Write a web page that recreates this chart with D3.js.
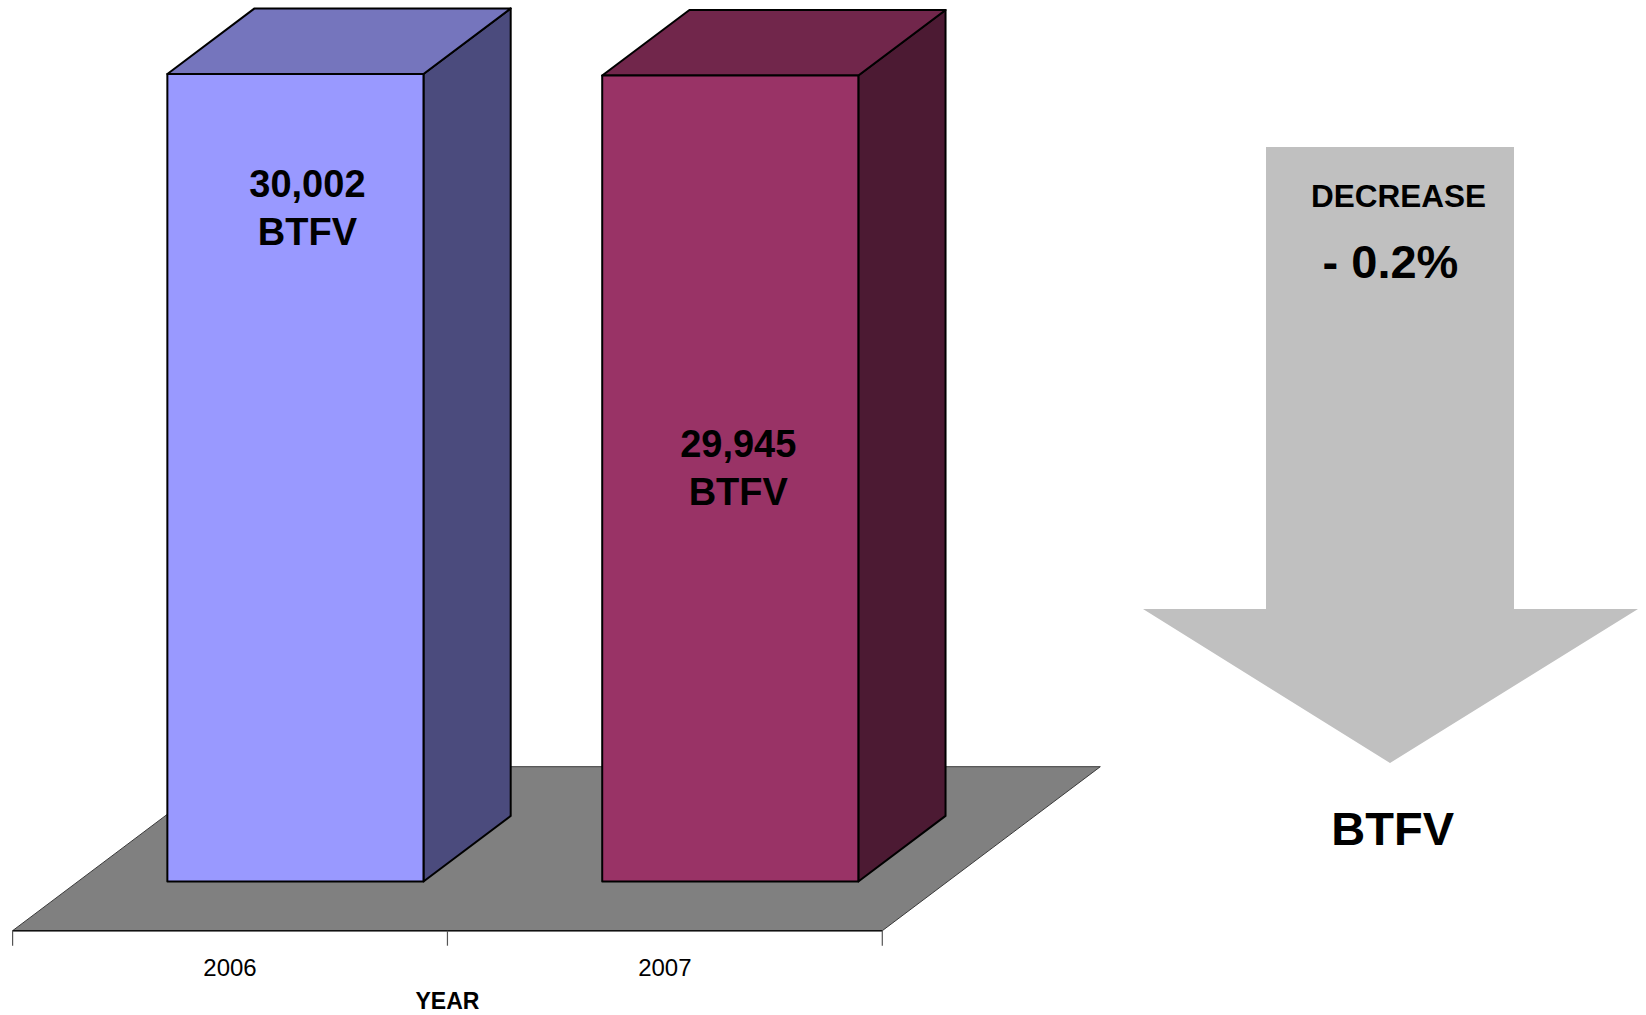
<!DOCTYPE html>
<html>
<head>
<meta charset="utf-8">
<script src="https://cdn.jsdelivr.net/npm/d3@7"></script>
<style>
  html, body { margin: 0; padding: 0; background: #ffffff; }
  svg { display: block; }
  text { font-family: "Liberation Sans", Arial, sans-serif; }
</style>
</head>
<body>
<svg id="chart" width="1646" height="1015"></svg>
<script>
// ---------------- data ----------------
const categories = ["2006", "2007"];
const values = [30002, 29945];
const valueLabels = ["30,002", "29,945"];
const unitLabel = "BTFV";
const axisTitle = "YEAR";
const changeTitle = "DECREASE";
const changeValue = "- 0.2%";

// ---------------- styles ----------------
const frontColors = ["#9999ff", "#993366"];
const topColors   = ["#7575bd", "#71264b"];
const sideColors  = ["#4b4b7d", "#4c1a33"];

// ---------------- layout ----------------
const floorFrontY = 930.7;
const depth = { dx: 218, dy: -164 };     // full floor depth vector
const barDepth = [0.3, 0.7];            // bars sit between these depth fractions
const barWidthFrac = 0.589;
const labelDy = [123, 381];             // label baseline below bar top (first line)
const labelDx = [12, 8];

const svg = d3.select("#chart");

const x = d3.scaleBand().domain(categories).range([12.6, 882.3]).paddingInner(0).paddingOuter(0);
const bw = x.bandwidth() * barWidthFrac;

const f0 = { dx: depth.dx * barDepth[0], dy: depth.dy * barDepth[0] };
const f1 = { dx: depth.dx * barDepth[1], dy: depth.dy * barDepth[1] };
const baseY = floorFrontY + f0.dy;

const y = d3.scaleLinear().domain([0, 30002]).range([baseY, 74]);

// ---------------- floor ----------------
const [x0, x1] = x.range();
const floorPts = [
  [x0, floorFrontY], [x1, floorFrontY],
  [x1 + depth.dx, floorFrontY + depth.dy], [x0 + depth.dx, floorFrontY + depth.dy]
];
svg.append("polygon")
  .attr("points", floorPts.map(p => p.join(",")).join(" "))
  .attr("fill", "#808080")
  .attr("stroke", "#3a3a3a")
  .attr("stroke-width", 1);

// axis line
svg.append("line")
  .attr("x1", x0).attr("x2", x1)
  .attr("y1", floorFrontY).attr("y2", floorFrontY)
  .attr("stroke", "#111").attr("stroke-width", 1.5);

// ticks at band boundaries
const boundaries = categories.map(c => x(c)).concat([x1]);
svg.selectAll("line.tick").data(boundaries).enter().append("line")
  .attr("class", "tick")
  .attr("x1", d => d).attr("x2", d => d)
  .attr("y1", floorFrontY).attr("y2", floorFrontY + 15)
  .attr("stroke", "#555").attr("stroke-width", 1.2);

// tick labels
svg.selectAll("text.cat").data(categories).enter().append("text")
  .attr("class", "cat")
  .attr("x", d => x(d) + x.bandwidth() / 2)
  .attr("y", 975.7)
  .attr("text-anchor", "middle")
  .attr("font-size", 24)
  .attr("fill", "#000")
  .text(d => d);

svg.append("text")
  .attr("x", (x0 + x1) / 2)
  .attr("y", 1009)
  .attr("text-anchor", "middle")
  .attr("font-size", 23)
  .attr("font-weight", "bold")
  .text(axisTitle);

// ---------------- bars ----------------
const dd = { dx: f1.dx - f0.dx, dy: f1.dy - f0.dy };
const bars = categories.map((c, i) => {
  const left = x(c) + (x.bandwidth() - bw) / 2 + f0.dx;
  const right = left + bw;
  const top = y(values[i]);
  return { i, left, right, top, bottom: baseY };
});

const g = svg.append("g").attr("stroke", "#000").attr("stroke-width", 2).attr("stroke-linejoin", "round");

bars.forEach(b => {
  g.append("polygon")
    .attr("points", [
      [b.right, b.bottom], [b.right, b.top],
      [b.right + dd.dx, b.top + dd.dy], [b.right + dd.dx, b.bottom + dd.dy]
    ].map(p => p.join(",")).join(" "))
    .attr("fill", sideColors[b.i]);
  g.append("polygon")
    .attr("points", [
      [b.left, b.top], [b.right, b.top],
      [b.right + dd.dx, b.top + dd.dy], [b.left + dd.dx, b.top + dd.dy]
    ].map(p => p.join(",")).join(" "))
    .attr("fill", topColors[b.i]);
  g.append("rect")
    .attr("x", b.left).attr("y", b.top)
    .attr("width", b.right - b.left).attr("height", b.bottom - b.top)
    .attr("fill", frontColors[b.i]);
});

// bar labels
bars.forEach(b => {
  const cx = (b.left + b.right) / 2 + labelDx[b.i];
  const t = svg.append("text")
    .attr("text-anchor", "middle")
    .attr("font-size", 38)
    .attr("font-weight", "bold")
    .attr("fill", "#000");
  t.append("tspan").attr("x", cx).attr("y", b.top + labelDy[b.i]).text(valueLabels[b.i]);
  t.append("tspan").attr("x", cx).attr("dy", 48).text(unitLabel);
});

// ---------------- arrow ----------------
const arrow = { shaftL: 1266, shaftR: 1514, shaftT: 147, headY: 609, headL: 1143, headR: 1638, tipX: 1390, tipY: 763 };
svg.append("polygon")
  .attr("points", [
    [arrow.shaftL, arrow.shaftT], [arrow.shaftR, arrow.shaftT], [arrow.shaftR, arrow.headY],
    [arrow.headR, arrow.headY], [arrow.tipX, arrow.tipY], [arrow.headL, arrow.headY],
    [arrow.shaftL, arrow.headY]
  ].map(p => p.join(",")).join(" "))
  .attr("fill", "#c0c0c0");

svg.append("text")
  .attr("x", 1398.5).attr("y", 206.7)
  .attr("text-anchor", "middle")
  .attr("font-size", 31.5).attr("font-weight", "bold")
  .text(changeTitle);

svg.append("text")
  .attr("x", 1390.5).attr("y", 277.7)
  .attr("text-anchor", "middle")
  .attr("font-size", 47).attr("font-weight", "bold")
  .text(changeValue);

svg.append("text")
  .attr("x", 1392.7).attr("y", 845)
  .attr("text-anchor", "middle")
  .attr("font-size", 47).attr("font-weight", "bold")
  .text(unitLabel);
</script>
</body>
</html>
